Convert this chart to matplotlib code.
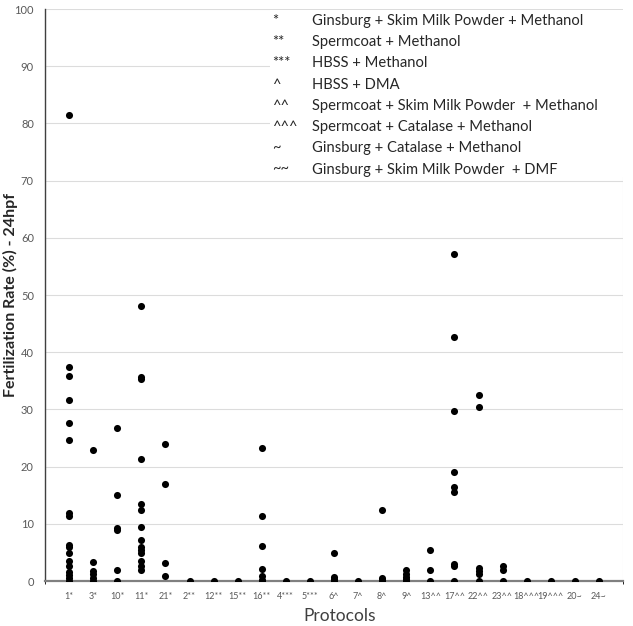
import matplotlib.pyplot as plt
from matplotlib.patches import Rectangle

plt.rcParams['font.family'] = ['Lato', 'DejaVu Sans']

# プロトコル（横軸のカテゴリ）
protocols = ['1*', '3*', '10*', '11*', '21*', '2**', '12**', '15**', '16**',
             '4***', '5***', '6^', '7^', '8^', '9^', '13^^', '17^^', '22^^',
             '23^^', '18^^^', '19^^^', '20~', '24~']

# 受精率 (%) - 各プロトコルの測定値
rates = [
    [81.5, 37.4, 35.9, 31.7, 27.7, 24.7, 11.9, 11.4, 6.3, 6.0, 4.9, 3.5, 2.7, 1.5, 1.1, 0.5, 0],
    [22.9, 3.4, 1.7, 1.3, 0.5, 0],
    [26.8, 15.1, 9.3, 8.9, 1.9, 0],
    [48.0, 35.6, 35.4, 21.3, 13.5, 12.5, 9.4, 7.2, 5.9, 5.5, 4.9, 3.5, 2.7, 1.9],
    [23.9, 17.0, 3.1, 0.8],
    [0],
    [0],
    [0],
    [23.2, 11.4, 6.2, 2.1, 0.8, 0.2, 0],
    [0],
    [0],
    [4.9, 0.7, 0.3, 0],
    [0],
    [12.5, 0.5, 0.2, 0],
    [1.9, 1.3, 0.7, 0.3, 0],
    [5.5, 1.9, 0],
    [57.2, 42.7, 29.8, 19.0, 16.4, 15.5, 3.0, 2.6, 0],
    [32.5, 30.5, 2.2, 1.7, 1.2, 0],
    [2.7, 1.9, 0],
    [0],
    [0],
    [0],
    [0],
]

# 凡例（記号と説明）
legend_symbols = ['*', '**', '***', '^', '^^', '^^^', '~', '~~']
legend_texts = ['Ginsburg + Skim Milk Powder + Methanol',
                'Spermcoat + Methanol',
                'HBSS + Methanol',
                'HBSS + DMA',
                'Spermcoat + Skim Milk Powder  + Methanol',
                'Spermcoat + Catalase + Methanol',
                'Ginsburg + Catalase + Methanol',
                'Ginsburg + Skim Milk Powder  + DMF']


def main():
    fig = plt.figure(figsize=(6.33, 6.26), dpi=100)
    ax = fig.add_axes([45 / 633, 45 / 626, 578 / 633, 572 / 626])

    for i, vals in enumerate(rates):
        ax.scatter([i + 1] * len(vals), vals, s=26, color='black', zorder=4,
                   linewidths=0)

    ax.set_xlim(0, len(protocols) + 1)
    ax.set_ylim(0, 100)
    ax.set_xticks(range(1, len(protocols) + 1))
    ax.set_xticklabels(protocols, fontsize=6.5, color='#595959')
    ax.set_yticks(range(0, 101, 10))
    ax.tick_params(axis='y', labelsize=8, labelcolor='#595959', length=0, pad=8)
    ax.tick_params(axis='x', length=0, pad=8)

    # グリッド
    ax.set_xticks(range(0, len(protocols) + 2), minor=True)
    ax.grid(True, which='minor', axis='x', color='#dcdcdc', linewidth=0.8)
    ax.grid(True, which='major', axis='y', color='#dcdcdc', linewidth=0.8)
    ax.set_axisbelow(True)

    for s in ['top', 'right']:
        ax.spines[s].set_visible(False)
    ax.spines['left'].set_color('#404040')
    ax.spines['left'].set_linewidth(1.0)
    ax.spines['bottom'].set_color('#808080')
    ax.spines['bottom'].set_linewidth(1.6)
    ax.spines['bottom'].set_zorder(3)

    ax.set_ylabel('Fertilization Rate (%) - 24hpf', fontsize=11.5, fontweight='bold',
                  color='#262626')
    ax.yaxis.set_label_coords(-0.047, 0.5)
    ax.set_xlabel('Protocols', fontsize=12.5, color='#404040')
    ax.xaxis.set_label_coords(0.51, -0.048)

    # 凡例の白い箱
    ax.add_patch(Rectangle((0.389, 0.706), 0.611, 0.292, transform=ax.transAxes,
                           facecolor='white', edgecolor='none', zorder=2))
    for k, (sym, txt) in enumerate(zip(legend_symbols, legend_texts)):
        y = 0.979 - k * 0.0371
        ax.text(0.393, y, sym, transform=ax.transAxes, fontsize=10.6,
                va='center', ha='left', color='#262626', zorder=3)
        ax.text(0.462, y, txt, transform=ax.transAxes, fontsize=10.6,
                va='center', ha='left', color='#262626', zorder=3)

    plt.savefig('out.png', dpi=100)


if __name__ == "__main__":
    main()
